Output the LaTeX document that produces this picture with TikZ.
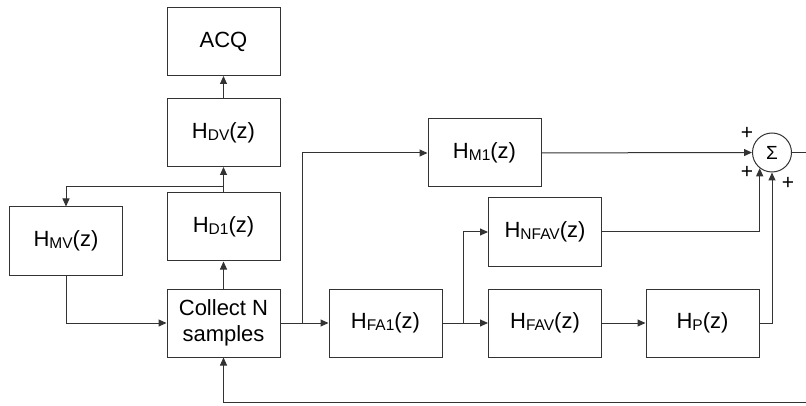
\documentclass[tikz,border=0pt]{standalone}
\usepackage{fontspec}
\setmainfont{Liberation Sans}
\usetikzlibrary{arrows.meta}
\newcommand{\blocksub}[1]{\raisebox{-2pt}{\fontsize{15.5}{16}\selectfont #1}}
\begin{document}
\begin{tikzpicture}[x=1pt,y=-1pt,
  line width=1pt, draw=black!80,
  block/.style={draw=black!80, minimum width=113pt, minimum height=68pt,
    inner sep=0pt, align=center, font=\fontsize{22}{26}\selectfont},
  sumnode/.style={draw=black!80, circle, minimum size=39pt, inner sep=0pt,
    font=\fontsize{19}{19}\selectfont},
  sign/.style={inner sep=0pt, font=\fontsize{21}{21}\selectfont},
  flow/.style={draw=black!80, -{Triangle[length=8pt,width=7pt]}},
  wire/.style={draw=black!80}]
\useasboundingbox (0,0) rectangle (806,406);

% left column
\node[block] (acq) at (223.5,41.5) {ACQ};
\node[block] (hdv) at (223.5,132.5) {H\blocksub{DV}(z)};
\node[block] (hd1) at (223.5,227) {H\blocksub{D1}(z)};
\node[block] (col) at (223.5,323) {Collect N\\samples};
\node[block] (hmv) at (66,241) {H\blocksub{MV}(z)};

% forward paths
\node[block] (hm1) at (484.5,153) {H\blocksub{M1}(z)};
\node[block] (hnfav) at (545,232) {H\blocksub{NFAV}(z)};
\node[block] (hfa1) at (385.5,323) {H\blocksub{FA1}(z)};
\node[block] (hfav) at (545,323) {H\blocksub{FAV}(z)};
\node[block] (hp) at (702.5,323) {H\blocksub{P}(z)};

% summing junction
\node[sumnode] (sum) at (772,152.5) {Σ};
\node[sign] (p1) at (747,133) {+};
\node[sign] (p2) at (747,172) {+};
\node[sign] (p3) at (788,183) {+};

% branch points and free ends
\coordinate (bd) at (223.5,187);
\coordinate (bm) at (302,323);
\coordinate (bn) at (463,323);
\coordinate (out) at (806,152.5);
\coordinate (fb) at (806,402);

% vertical chain
\draw[flow] (col) -- (hd1);
\draw[flow] (hd1) -- (hdv);
\draw[flow] (hdv) -- (acq);
\draw[flow] (bd) -| (hmv.north);
\draw[flow] (hmv.south) |- (col.west);

% main forward chain
\draw[flow] (col) -- (hfa1);
\draw[flow] (hfa1) -- (hfav);
\draw[flow] (hfav) -- (hp);
\draw[flow] (bm) |- (hm1.west);
\draw[flow] (bn) |- (hnfav.west);

% into the summing junction
\draw[flow] (hm1) -- (sum);
\draw[flow] (hnfav.east) -| (sum.-128);
\draw[flow] (hp.east) -| (sum.south);
\draw[wire] (sum.east) -- (out);

% feedback to the sampler
\draw[flow] (fb) -| (col.south);
\end{tikzpicture}
\end{document}
